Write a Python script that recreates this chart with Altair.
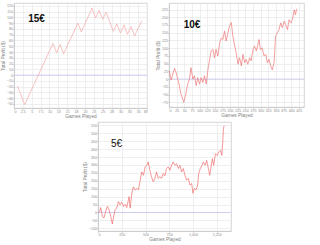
import altair as alt
import pandas as pd

# ---- 15€ panel ----
g15_games = [1, 3, 11, 12, 13, 14, 18, 19, 22, 23, 24, 25, 26, 28, 29, 30, 31, 32, 33, 34, 36]
g15_profit = [-19, -51, 55, 39, 53, 37, 90, 75, 116, 99, 112, 97, 109, 76, 89, 73, 87, 71, 84, 68, 94]

# ---- 10€ panel ----
g10_games = [1, 7, 18, 23, 34, 39, 45, 48, 54, 61, 67, 72, 78, 83, 89, 94, 100, 105, 111, 116,
             122, 127, 133, 138, 144, 149, 154, 160, 166, 171, 176, 182, 187, 193, 198, 204, 209,
             215, 220, 226, 231, 237, 242, 248, 253, 258, 264, 269, 275, 280, 286, 295, 299, 305,
             311, 317, 322, 327, 333, 338, 344, 349, 355, 360, 366, 371, 377, 382, 388, 393, 399,
             404, 410, 414, 418]
g10_profit = [27, -3, 35, 22, -21, -48, -64, -75, -53, -16, 0, 37, 0, 11, -21, 5, -16, 5, -11, 11,
              -16, 27, 64, 91, 96, 69, 96, 75, 117, 133, 128, 155, 123, 150, 171, 183, 139,
              107, 85, 48, 69, 43, 80, 53, 64, 48, 69, 59, 96, 107, 91, 128, 96, 101,
              75, 80, 53, 64, 43, 30, 53, 139, 150, 160, 182, 166, 187, 176, 160, 192, 182,
              192, 224, 208, 227]

# ---- 5€ panel ----
g5_games = [0, 18, 28, 46, 63, 81, 99, 116, 134, 151, 162, 180, 197, 215, 232, 250, 268, 285, 303,
            320, 327, 338, 356, 373, 391, 408, 426, 444, 461, 479, 496, 514, 528, 546, 563, 581,
            599, 616, 634, 651, 669, 687, 704, 722, 739, 757, 775, 792, 810, 827, 845, 863, 880,
            898, 915, 933, 951, 968, 986, 1000, 1014, 1032, 1049, 1060, 1077, 1095, 1109, 1127,
            1144, 1162, 1176, 1190, 1204, 1218, 1236, 1254, 1271, 1289, 1303, 1313, 1320, 1327]
g5_profit = [-4, 6, 31, -25, -35, 6, 38, 17, -25, -73, -35, 17, 27, 69, 48, 65, 38, 52, 31,
             79, 100, 27, 121, 162, 142, 152, 142, 204, 256, 235, 288, 298, 319, 267, 225, 194,
             215, 256, 215, 225, 215, 246, 231, 277, 288, 267, 298, 319, 298, 308, 277, 298, 256,
             277, 235, 204, 215, 173, 183, 121, 152, 142, 173, 246, 277, 298, 319, 298,
             329, 277, 235, 288, 340, 298, 371, 360, 381, 392, 360, 444, 527, 548]

# ---- axes ----
x15_ticks = [0, 2.5, 5, 7.5, 10, 12.5, 15, 17.5, 20, 22.5, 25, 27.5, 30, 32.5, 35, 37.5]
y15_ticks = [-50, -40, -30, -20, -10, 0, 10, 20, 30, 40, 50, 60, 70, 80, 90, 100, 110, 120]
x10_ticks = [0, 25, 50, 75, 100, 125, 150, 175, 200, 225, 250, 275, 300, 325, 350, 375, 400, 425]
y10_ticks = [-75, -50, -25, 0, 25, 50, 75, 100, 125, 150, 175, 200, 225]
x5_ticks = [0, 250, 500, 750, 1000, 1250]
y5_ticks = [-100, -50, 0, 50, 100, 150, 200, 250, 300, 350, 400, 450, 500, 550]

FONT = "Liberation Sans"


def panel(games, profit, label, lx, ly, xdom, ydom, xticks, yticks, w, h, xfmt,
          weight, color, fsize):
    df = pd.DataFrame({"game": games, "profit": profit})
    x = alt.X("game:Q", title="Games Played",
              scale=alt.Scale(domain=xdom, nice=False, zero=False),
              axis=alt.Axis(values=xticks, format=xfmt))
    y = alt.Y("profit:Q", title="Total Profit ($)",
              scale=alt.Scale(domain=ydom, nice=False, zero=False),
              axis=alt.Axis(values=yticks, format="d"))
    zero = alt.Chart(pd.DataFrame({"profit": [0]})).mark_rule(
        color="#c8c8f2", strokeWidth=0.9).encode(y=y)
    line = alt.Chart(df).mark_line(color=color, strokeWidth=0.65).encode(x=x, y=y)
    txt = alt.Chart(pd.DataFrame({"game": [lx], "profit": [ly], "t": [label]})).mark_text(
        align="left", baseline="middle", fontSize=fsize, fontWeight=weight, font=FONT,
        color="#111111").encode(x=x, y=y, text="t:N")
    return alt.layer(zero, line, txt).properties(width=w, height=h)


p15 = panel(g15_games, g15_profit, "15€", 4, 97, [0, 37.5], [-57, 125],
            x15_ticks, y15_ticks, 133, 105, "~g", "bold", "#f2a0a0", 10)
p10 = panel(g10_games, g10_profit, "10€", 48, 176, [0, 442], [-90, 246],
            x10_ticks, y10_ticks, 135, 104, "d", "bold", "#ee6c6c", 10)
p5 = panel(g5_games, g5_profit, "5€", 137, 433, [0, 1400], [-117, 571],
           x5_ticks, y5_ticks, 133, 109, ",.0f", "normal", "#ee6262", 10)

spacer = alt.Chart(pd.DataFrame({"s": [0]})).mark_point(opacity=0).encode(
    x=alt.X("s:Q", axis=None), y=alt.Y("s:Q", axis=None)
).properties(width=64, height=10, view=alt.ViewBackground(strokeOpacity=0))

top = alt.hconcat(p15, p10, spacing=7)
bottom = alt.hconcat(spacer, p5, spacing=4)
chart = alt.vconcat(top, bottom, spacing=2).properties(
    padding={"left": 0, "top": 2, "right": 0, "bottom": 0}
).configure_axis(
    labelFontSize=3.6, titleFontSize=4.8, labelColor="#8a8a8a", titleColor="#808080",
    gridColor="#e8e8e8", domainColor="#cccccc", tickColor="#cccccc", tickSize=1.2,
    labelPadding=0.3, titlePadding=0.6, labelFont=FONT, titleFont=FONT,
    titleFontWeight="normal", gridWidth=0.7
).configure_view(stroke="#cccccc", strokeWidth=0.8)

chart.save("out.html", embed_options={"renderer": "svg", "actions": False})
